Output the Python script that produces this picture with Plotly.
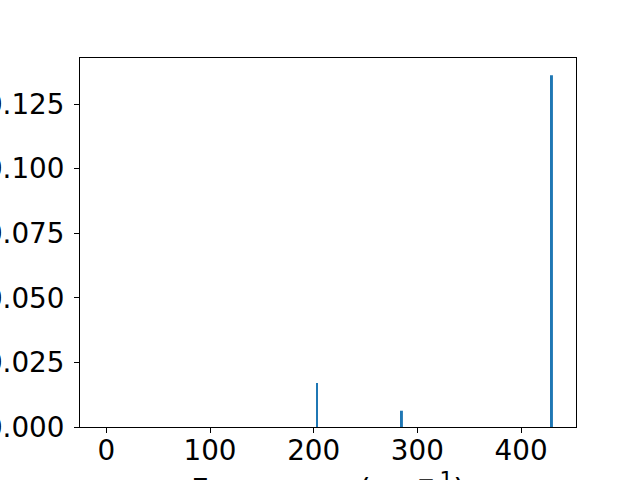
import plotly.graph_objects as go

freqs = [203.2, 285.1, 429.8]
intensities = [0.0170, 0.0063, 0.1361]
x_ticks = [0, 100, 200, 300, 400]
y_ticks = [0.000, 0.025, 0.050, 0.075, 0.100, 0.125]

FONT = "DejaVu Sans"
FS = 27.8

fig = go.Figure()
fig.add_trace(go.Bar(x=freqs, y=intensities, width=1.9,
                     marker=dict(color="#1f77b4", line=dict(width=0))))

fig.update_layout(
    width=640, height=480,
    margin=dict(l=80, r=64, t=58, b=53, pad=0),
    plot_bgcolor="white", paper_bgcolor="white",
    showlegend=False,
    font=dict(family=FONT, size=FS, color="black"),
)
fig.update_xaxes(range=[-25.4, 453], tickvals=x_ticks, ticks="outside", ticklen=5,
                 tickcolor="black", linecolor="black", linewidth=1, mirror=True,
                 showgrid=False, zeroline=False, automargin=False,
                 ticklabelstandoff=-6,
                 tickfont=dict(family=FONT, size=FS))
fig.update_yaxes(range=[0, 0.1428], tickvals=y_ticks, tickformat=".3f", ticks="outside",
                 ticklen=5, tickcolor="black", linecolor="black", linewidth=1, mirror=True,
                 showgrid=False, zeroline=False, automargin=False,
                 ticklabelstandoff=4,
                 tickfont=dict(family=FONT, size=FS))
fig.add_annotation(text="Frequency (cm<sup>−\u20091</sup>)", xref="paper", yref="paper",
                   x=0.5, y=-0.104, xanchor="center", yanchor="top", showarrow=False,
                   font=dict(family=FONT, size=30.6))

fig.write_html("out.html", config={"displayModeBar": False},
               post_script="document.body.style.margin='0';document.body.style.overflow='hidden';")
